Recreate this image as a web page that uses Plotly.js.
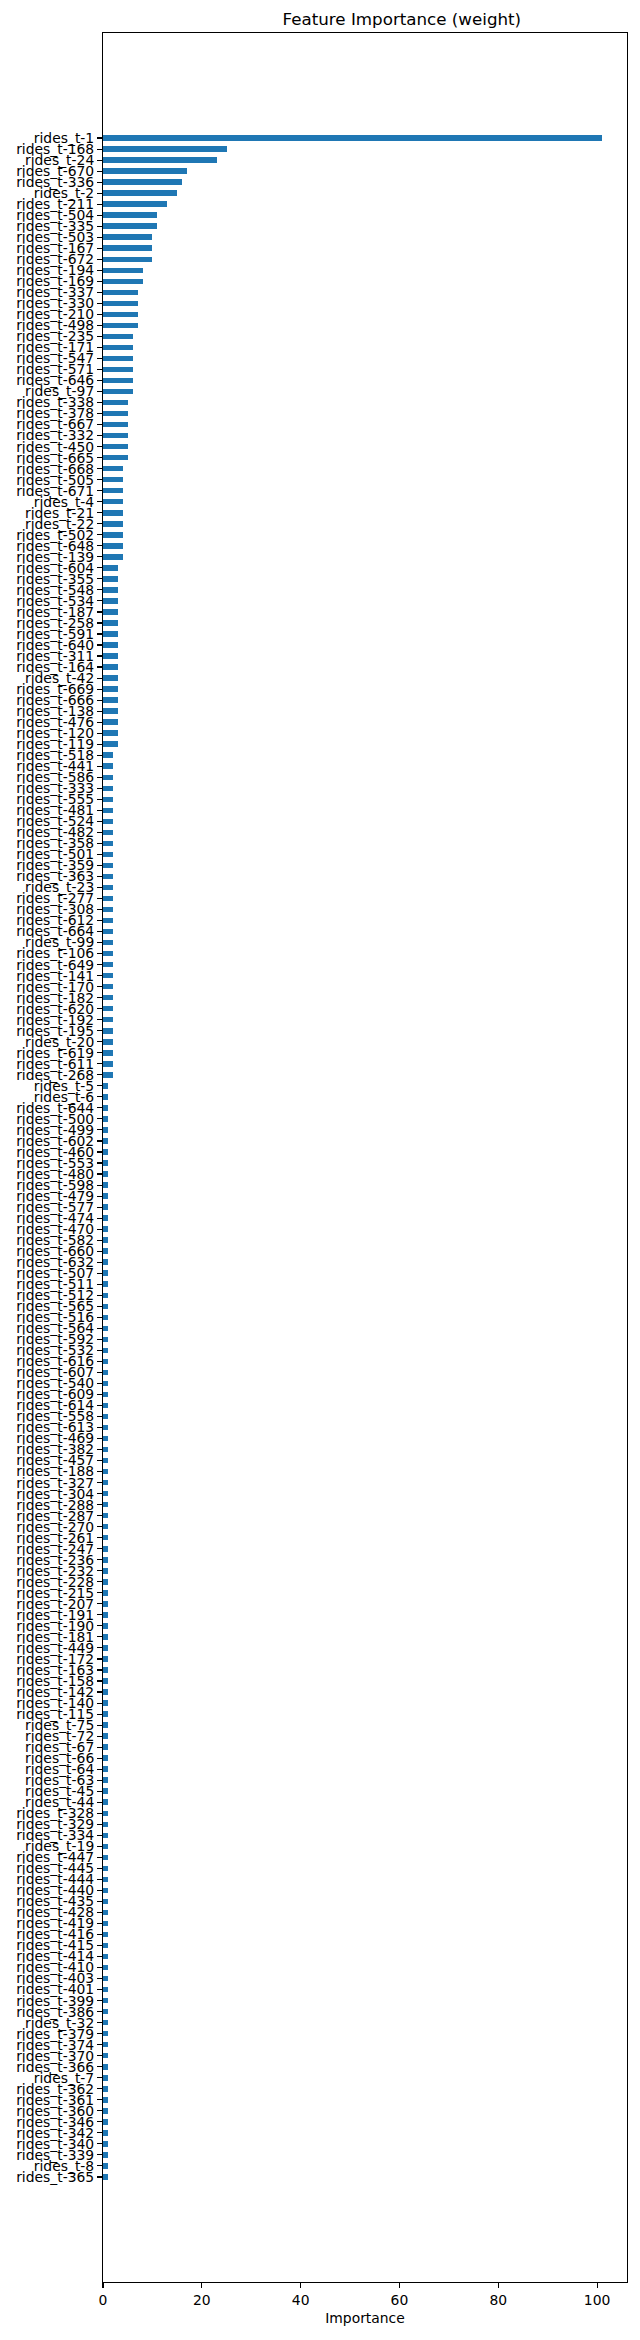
<!DOCTYPE html>
<html>
<head>
<meta charset="utf-8">
<script src="https://cdn.plot.ly/plotly-3.0.1.min.js"></script>
<style>html,body{margin:0;padding:0;background:#fff;}#chart{width:640px;height:2340px;}</style>
</head>
<body>
<div id="chart"></div>
<script>
// Features listed top to bottom as drawn
const features = [
"rides_t-1","rides_t-168","rides_t-24","rides_t-670","rides_t-336","rides_t-2","rides_t-211","rides_t-504","rides_t-335","rides_t-503",
"rides_t-167","rides_t-672","rides_t-194","rides_t-169","rides_t-337","rides_t-330","rides_t-210","rides_t-498","rides_t-235","rides_t-171",
"rides_t-547","rides_t-571","rides_t-646","rides_t-97","rides_t-338","rides_t-378","rides_t-667","rides_t-332","rides_t-450","rides_t-665",
"rides_t-668","rides_t-505","rides_t-671","rides_t-4","rides_t-21","rides_t-22","rides_t-502","rides_t-648","rides_t-139","rides_t-604",
"rides_t-355","rides_t-548","rides_t-534","rides_t-187","rides_t-258","rides_t-591","rides_t-640","rides_t-311","rides_t-164","rides_t-42",
"rides_t-669","rides_t-666","rides_t-138","rides_t-476","rides_t-120","rides_t-119","rides_t-518","rides_t-441","rides_t-586","rides_t-333",
"rides_t-555","rides_t-481","rides_t-524","rides_t-482","rides_t-358","rides_t-501","rides_t-359","rides_t-363","rides_t-23","rides_t-277",
"rides_t-308","rides_t-612","rides_t-664","rides_t-99","rides_t-106","rides_t-649","rides_t-141","rides_t-170","rides_t-182","rides_t-620",
"rides_t-192","rides_t-195","rides_t-20","rides_t-619","rides_t-611","rides_t-268","rides_t-5","rides_t-6","rides_t-644","rides_t-500",
"rides_t-499","rides_t-602","rides_t-460","rides_t-553","rides_t-480","rides_t-598","rides_t-479","rides_t-577","rides_t-474","rides_t-470",
"rides_t-582","rides_t-660","rides_t-632","rides_t-507","rides_t-511","rides_t-512","rides_t-565","rides_t-516","rides_t-564","rides_t-592",
"rides_t-532","rides_t-616","rides_t-607","rides_t-540","rides_t-609","rides_t-614","rides_t-558","rides_t-613","rides_t-469","rides_t-382",
"rides_t-457","rides_t-188","rides_t-327","rides_t-304","rides_t-288","rides_t-287","rides_t-270","rides_t-261","rides_t-247","rides_t-236",
"rides_t-232","rides_t-228","rides_t-215","rides_t-207","rides_t-191","rides_t-190","rides_t-181","rides_t-449","rides_t-172","rides_t-163",
"rides_t-158","rides_t-142","rides_t-140","rides_t-115","rides_t-75","rides_t-72","rides_t-67","rides_t-66","rides_t-64","rides_t-63",
"rides_t-45","rides_t-44","rides_t-328","rides_t-329","rides_t-334","rides_t-19","rides_t-447","rides_t-445","rides_t-444","rides_t-440",
"rides_t-435","rides_t-428","rides_t-419","rides_t-416","rides_t-415","rides_t-414","rides_t-410","rides_t-403","rides_t-401","rides_t-399",
"rides_t-386","rides_t-32","rides_t-379","rides_t-374","rides_t-370","rides_t-366","rides_t-7","rides_t-362","rides_t-361","rides_t-360",
"rides_t-346","rides_t-342","rides_t-340","rides_t-339","rides_t-8","rides_t-365"
];

const importance = [
101,25,23,17,16,15,13,11,11,10,
10,10,8,8,7,7,7,7,6,6,
6,6,6,6,5,5,5,5,5,5,
4,4,4,4,4,4,4,4,4,3,
3,3,3,3,3,3,3,3,3,3,
3,3,3,3,3,3,2,2,2,2,
2,2,2,2,2,2,2,2,2,2,
2,2,2,2,2,2,2,2,2,2,
2,2,2,2,2,2,1,1,1,1,
1,1,1,1,1,1,1,1,1,1,
1,1,1,1,1,1,1,1,1,1,
1,1,1,1,1,1,1,1,1,1,
1,1,1,1,1,1,1,1,1,1,
1,1,1,1,1,1,1,1,1,1,
1,1,1,1,1,1,1,1,1,1,
1,1,1,1,1,1,1,1,1,1,
1,1,1,1,1,1,1,1,1,1,
1,1,1,1,1,1,1,1,1,1,
1,1,1,1,1,1
];

const xTicks = [0, 20, 40, 60, 80, 100];

const FONT = "DejaVu Sans, sans-serif";
const n = features.length;
const pad = 9.53;

const trace = {
  type: "bar",
  orientation: "h",
  x: importance,
  y: features,
  width: 0.5,
  marker: {color: "#1f77b4", line: {width: 0}},
  hoverinfo: "x+y"
};

const layout = {
  width: 640,
  height: 2340,
  paper_bgcolor: "#fff",
  plot_bgcolor: "#fff",
  margin: {l: 103, r: 13, t: 33, b: 58, pad: 0},
  showlegend: false,
  bargap: 0,
  font: {family: FONT, size: 13.9, color: "#000"},
  title: {
    text: "Feature Importance (weight)",
    font: {family: FONT, size: 16.7, color: "#000"},
    x: (103 + 627) / 2 / 640,
    xanchor: "center",
    xref: "paper",
    yref: "container",
    y: 1 - 19 / 2340,
    yanchor: "middle"
  },
  xaxis: {
    range: [0, 106.05],
    tickmode: "array",
    tickvals: xTicks,
    ticktext: xTicks.map(String),
    ticks: "outside",
    ticklen: 4.9,
    tickwidth: 1.1,
    tickcolor: "#000",
    showgrid: false,
    zeroline: false,
    showline: true,
    linecolor: "#000",
    linewidth: 1.1,
    mirror: true,
    tickfont: {family: FONT, size: 13.9, color: "#000"},
    title: {text: "Importance", font: {family: FONT, size: 13.9, color: "#000"}, standoff: 6}
  },
  yaxis: {
    type: "category",
    categoryorder: "array",
    categoryarray: features,
    range: [n - 1 + pad, -pad],
    tickmode: "array",
    tickvals: features,
    ticktext: features,
    ticks: "outside",
    ticklen: 4.9,
    tickwidth: 1.1,
    tickcolor: "#000",
    showgrid: false,
    zeroline: false,
    showline: true,
    linecolor: "#000",
    linewidth: 1.1,
    mirror: true,
    automargin: false,
    tickfont: {family: FONT, size: 13.9, color: "#000"}
  }
};

Plotly.newPlot("chart", [trace], layout, {displayModeBar: false, staticPlot: true});
</script>
</body>
</html>
